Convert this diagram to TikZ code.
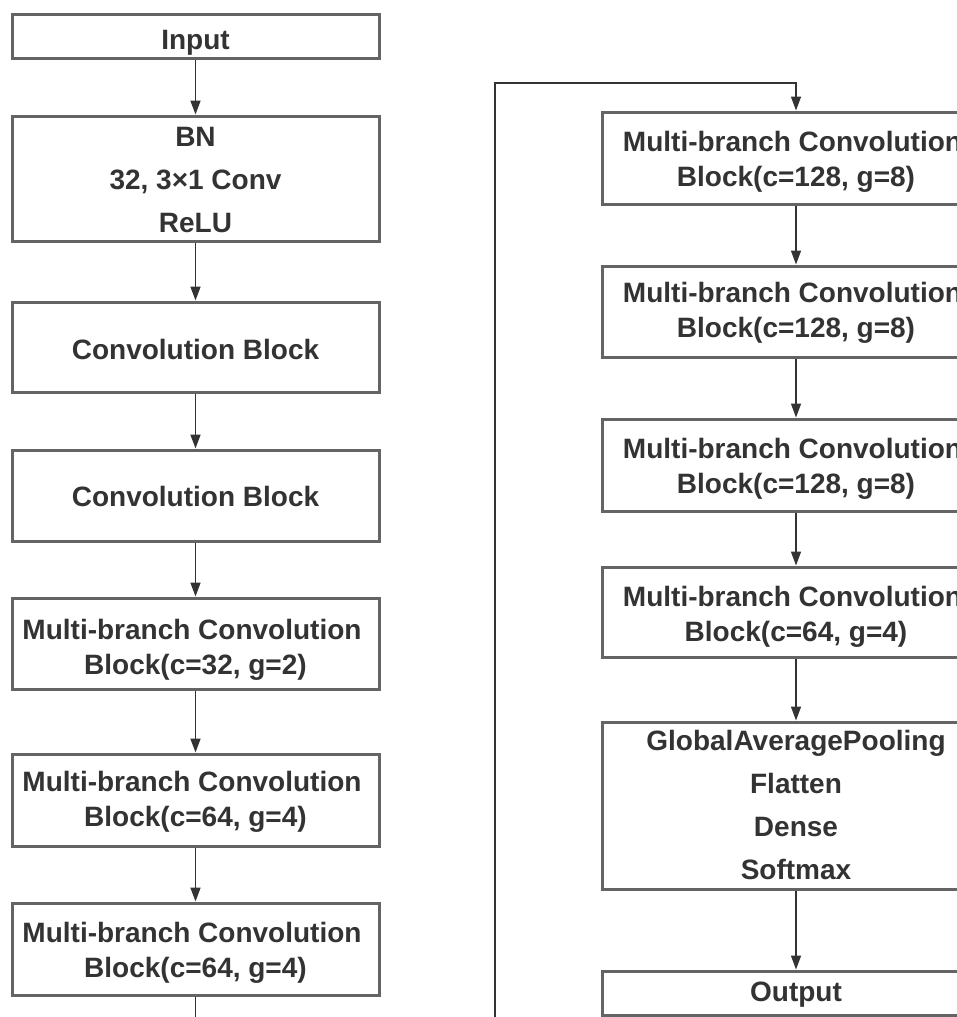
\documentclass[tikz,border=0pt]{standalone}
\usepackage{fontspec}
\setmainfont{Liberation Sans}
\usetikzlibrary{arrows.meta}
\definecolor{txt}{HTML}{333333}
\definecolor{bord}{HTML}{646464}
\definecolor{lin}{HTML}{333333}
\newcommand{\mlines}[1]{\begin{tabular}[t]{@{}c@{}}#1\end{tabular}}
\newcommand{\mbc}{Multi-branch Convolution\kern7pt}
\begin{document}
\begin{tikzpicture}[x=1pt,y=-1pt,
  blk/.style={draw=bord,line width=3pt,fill=white,rectangle,inner sep=0pt,
    text=txt,font=\bfseries\fontsize{28}{35}\selectfont},
  lblk/.style={blk,minimum width=367pt},
  rblk/.style={blk,minimum width=388pt},
  tall/.style={font=\bfseries\fontsize{28}{42.8}\selectfont},
  up/.style={text height=#1,text depth=0pt},
  dn/.style={text height=0pt,text depth=#1},
  arr/.style={draw=lin,line width=1.6pt,-{Triangle[length=14pt,width=10pt]}},
  ln/.style={draw=lin,line width=1.6pt}]
\useasboundingbox (0,0) rectangle (957,1017);
\clip (0,0) rectangle (957,1017);
\fill[white] (0,0) rectangle (957,1017);
% left column
\node[lblk,minimum height=44pt,up=26pt] (in) at (195.5,36) {\mlines{Input}};
\node[lblk,tall,minimum height=125pt,dn=63.6pt] (bn) at (195.5,178.5) {\mlines{BN\\32, 3×1 Conv\\ReLU}};
\node[lblk,minimum height=90pt,up=24pt] (cb1) at (195.5,347) {\mlines{Convolution Block}};
\node[lblk,minimum height=91pt,up=22pt] (cb2) at (195.5,495.5) {\mlines{Convolution Block}};
\node[lblk,minimum height=91pt,dn=7.6pt] (mb1) at (195.5,643.5) {\mlines{\mbc\\Block(c=32, g=2)}};
\node[lblk,minimum height=92pt,dn=16.6pt] (mb2) at (195.5,800) {\mlines{\mbc\\Block(c=64, g=4)}};
\node[lblk,minimum height=92pt,dn=13.4pt] (mb3) at (195.5,949) {\mlines{\mbc\\Block(c=64, g=4)}};
% right column
\node[rblk,minimum height=92pt,dn=12.6pt] (r1) at (796,158) {\mlines{\mbc\\Block(c=128, g=8)}};
\node[rblk,minimum height=91pt,dn=18.4pt] (r2) at (796,311.5) {\mlines{\mbc\\Block(c=128, g=8)}};
\node[rblk,minimum height=92pt,dn=13.4pt] (r3) at (796,465) {\mlines{\mbc\\Block(c=128, g=8)}};
\node[rblk,minimum height=90pt,dn=10.6pt] (r4) at (796,612) {\mlines{\mbc\\Block(c=64, g=4)}};
\node[rblk,minimum height=167pt,font=\bfseries\fontsize{28}{43.3}\selectfont,dn=111pt] (gap) at (796,805.5) {\mlines{GlobalAveragePooling\\Flatten\\Dense\\Softmax}};
\node[rblk,minimum height=44pt,up=17.4pt] (out) at (796,993) {\mlines{Output}};
% connectors
\draw[arr] (in) -- (bn);
\draw[arr] (bn) -- (cb1);
\draw[arr] (cb1) -- (cb2);
\draw[arr] (cb2) -- (mb1);
\draw[arr] (mb1) -- (mb2);
\draw[arr] (mb2) -- (mb3);
\coordinate (lend) at (195.5,1030);
\draw[ln] (mb3) -- (lend);
\coordinate (rstart) at (495,1030);
\coordinate (rtop) at (495,83);
\draw[arr] (rstart) -- (rtop) -| (r1.north);
\draw[arr] (r1) -- (r2);
\draw[arr] (r2) -- (r3);
\draw[arr] (r3) -- (r4);
\draw[arr] (r4) -- (gap);
\draw[arr] (gap) -- (out);
\end{tikzpicture}
\end{document}
